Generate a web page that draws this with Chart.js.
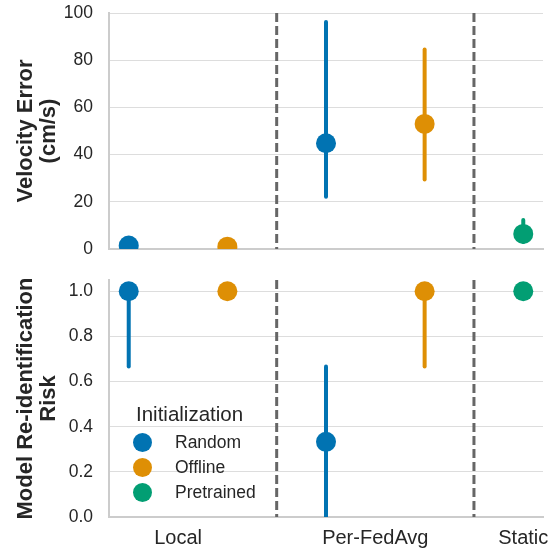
<!DOCTYPE html>
<html>
<head>
<meta charset="utf-8">
<script src="https://cdn.jsdelivr.net/npm/chart.js@4.4.0/dist/chart.umd.min.js"></script>
<style>
  body { margin: 0; background: #fff; width: 553px; height: 548px; overflow: hidden; position: relative;
         font-family: "Liberation Sans", Arial, sans-serif; color: #262626; }
  canvas { position: absolute; left: 0; }
  #top { top: 0; }
  #bottom { top: 262px; }
  .lg-title { position: absolute; left: 136px; top: 402px; font-size: 20.5px; line-height: 24px; }
  .lg-item { position: absolute; left: 133px; height: 20px; font-size: 17.5px; line-height: 20px; }
  .lg-dot { position: absolute; left: 0; top: 0.5px; width: 19px; height: 19px; border-radius: 50%; }
  .lg-text { position: absolute; left: 42px; top: 0; white-space: nowrap; }
</style>
</head>
<body>
<canvas id="top" width="553" height="262"></canvas>
<canvas id="bottom" width="553" height="286"></canvas>
<div id="legend"></div>
<script>
const categories = ['Local', 'Per-FedAvg', 'Static'];
const methods = ['Random', 'Offline', 'Pretrained'];
const colors = ['#0173b2', '#de8f05', '#029e73'];

// categories in which each initialization was run
const randomCats = ['Local', 'Per-FedAvg'];
const offlineCats = ['Local', 'Per-FedAvg'];
const pretrainedCats = ['Static'];

// velocity error (cm/s): mean and interval
const velRandom = [1.5, 44.8];
const velRandomLow = [1.0, 22.1];
const velRandomHigh = [2.0, 96.2];
const velOffline = [1.0, 53.0];
const velOfflineLow = [0.6, 29.5];
const velOfflineHigh = [1.4, 84.5];
const velPretrained = [6.4];
const velPretrainedLow = [3.0];
const velPretrainedHigh = [12.3];

// model re-identification risk: mean and interval
const riskRandom = [1.0, 0.333];
const riskRandomLow = [0.667, 0.0];
const riskRandomHigh = [1.0, 0.667];
const riskOffline = [1.0, 1.0];
const riskOfflineLow = [1.0, 0.667];
const riskOfflineHigh = [1.0, 1.0];
const riskPretrained = [1.0];
const riskPretrainedLow = [1.0];
const riskPretrainedHigh = [1.0];

const catsFor = [randomCats, offlineCats, pretrainedCats];

// dodge slots: one per (category, method) pair that exists
const slots = [];
categories.forEach(c => methods.forEach((m, mi) => {
  if (catsFor[mi].includes(c)) slots.push({c: c, m: m});
}));
const catCenters = categories.map(c => {
  const idx = slots.map((s, i) => s.c === c ? i : -1).filter(i => i >= 0);
  return (idx[0] + idx[idx.length - 1]) / 2;
});
const dividers = [];
for (let i = 1; i < slots.length; i++) {
  if (slots[i].c !== slots[i - 1].c) dividers.push(i - 0.5);
}

function points(mi, means, lows, highs) {
  return catsFor[mi].map((c, i) => ({
    x: slots.findIndex(s => s.c === c && s.m === methods[mi]),
    y: means[i], lo: lows[i], hi: highs[i]
  }));
}

function datasets(series) {
  return series.map((s, mi) => ({
    label: methods[mi],
    data: points(mi, s[0], s[1], s[2]),
    backgroundColor: colors[mi],
    borderWidth: 0,
    pointRadius: 10,
    pointHoverRadius: 10,
    clip: 0
  }));
}

const guides = {
  id: 'guides',
  beforeDatasetsDraw(chart) {
    const {ctx, chartArea: a, scales: {x, y}} = chart;
    ctx.save();
    ctx.beginPath();
    ctx.rect(a.left, a.top, a.right - a.left, a.bottom - a.top);
    ctx.clip();
    ctx.strokeStyle = '#666666';
    ctx.lineWidth = 3;
    ctx.setLineDash([9, 4]);
    dividers.forEach(v => {
      const px = x.getPixelForValue(v);
      ctx.beginPath();
      ctx.moveTo(px, a.top);
      ctx.lineTo(px, a.bottom);
      ctx.stroke();
    });
    ctx.setLineDash([]);
    ctx.lineWidth = 4;
    ctx.lineCap = 'round';
    chart.data.datasets.forEach(ds => {
      ctx.strokeStyle = ds.backgroundColor;
      ds.data.forEach(p => {
        const px = x.getPixelForValue(p.x);
        ctx.beginPath();
        ctx.moveTo(px, y.getPixelForValue(p.lo));
        ctx.lineTo(px, y.getPixelForValue(p.hi));
        ctx.stroke();
      });
    });
    ctx.restore();
  }
};

function panel(id, series, yMin, yMax, step, fmt, title, showX, padTop) {
  return new Chart(document.getElementById(id), {
    type: 'scatter',
    data: { datasets: datasets(series) },
    plugins: [guides],
    options: {
      responsive: false,
      animation: false,
      devicePixelRatio: 1,
      layout: { padding: { top: padTop, right: 10, left: 0, bottom: 0 } },
      plugins: { legend: { display: false }, tooltip: { enabled: false } },
      scales: {
        x: {
          type: 'linear',
          min: -0.2,
          max: slots.length - 0.8,
          afterBuildTicks: s => { s.ticks = catCenters.map(v => ({value: v})); },
          afterFit: s => { s.height = showX ? 31 : 13; s.paddingLeft = 0; s.paddingRight = 0; },
          grid: { display: false, drawTicks: false },
          border: { color: '#cccccc', width: 2 },
          ticks: {
            display: showX,
            autoSkip: false,
            maxRotation: 0,
            padding: 9,
            color: '#262626',
            font: { family: 'Liberation Sans', size: 20 },
            callback: (v, i) => categories[i]
          }
        },
        y: {
          min: yMin,
          max: yMax,
          afterFit: s => { s.width = 109; s.paddingTop = 0; s.paddingBottom = 0; },
          grid: { color: '#dddddd', lineWidth: 1, drawTicks: false },
          border: { color: '#cccccc', width: 2 },
          ticks: {
            stepSize: step,
            includeBounds: false,
            padding: 16,
            color: '#262626',
            font: { family: 'Liberation Sans', size: 17.5 },
            callback: fmt
          },
          title: {
            display: true,
            text: title,
            color: '#262626',
            padding: { top: 14, bottom: 0 },
            font: { family: 'Liberation Sans', size: 22, weight: 'bold', lineHeight: 1.05 }
          }
        }
      }
    }
  });
}

panel('top', [
  [velRandom, velRandomLow, velRandomHigh],
  [velOffline, velOfflineLow, velOfflineHigh],
  [velPretrained, velPretrainedLow, velPretrainedHigh]
], 0, 100, 20, v => v, ['Velocity Error', '(cm/s)'], false, 13);

panel('bottom', [
  [riskRandom, riskRandomLow, riskRandomHigh],
  [riskOffline, riskOfflineLow, riskOfflineHigh],
  [riskPretrained, riskPretrainedLow, riskPretrainedHigh]
], 0, 1.05, 0.2, v => v.toFixed(1), ['Model Re-identification', 'Risk'], true, 18);

// legend
const lg = document.getElementById('legend');
let html = '<div class="lg-title">Initialization</div>';
methods.forEach((m, i) => {
  html += '<div class="lg-item" style="top:' + (432 + i * 25) + 'px">' +
    '<div class="lg-dot" style="background:' + colors[i] + '"></div>' +
    '<div class="lg-text">' + m + '</div></div>';
});
lg.innerHTML = html;
</script>
</body>
</html>
